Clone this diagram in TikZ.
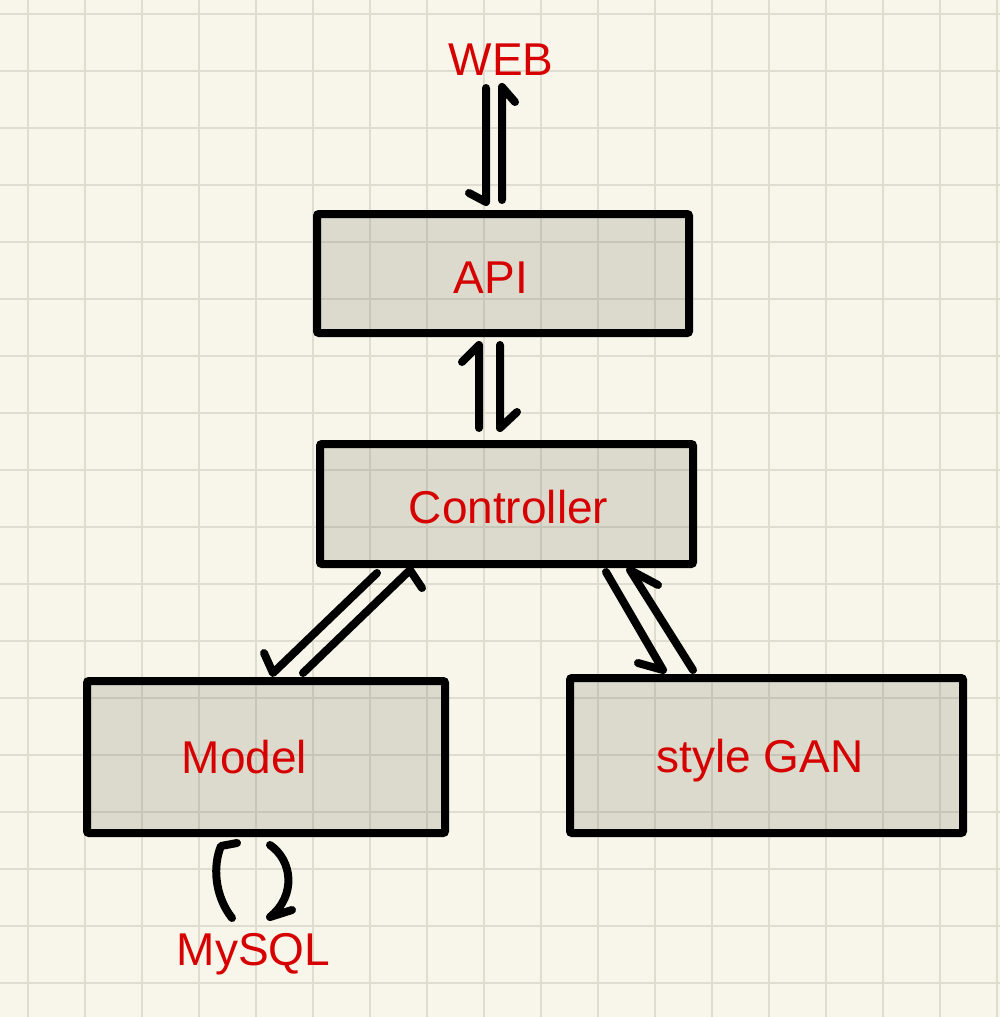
\documentclass[tikz,border=0pt]{standalone}
\usepackage{fontspec}
\setmainfont{Liberation Sans}
\usetikzlibrary{calc}
\definecolor{paper}{RGB}{248,246,234}
\definecolor{gridc}{RGB}{222,221,208}
\definecolor{boxfill}{RGB}{125,125,110}
\definecolor{labred}{RGB}{214,0,0}
\begin{document}
\begin{tikzpicture}[x=1pt,y=-1pt,
  box/.style={draw=black, line width=8pt, fill=boxfill, fill opacity=0.23, draw opacity=1, rounded corners=2pt, outer sep=0pt, inner sep=0pt},
  txt/.style={text=labred, font=\fontsize{46}{50}\selectfont, inner sep=0pt, outer sep=0pt, anchor=base},
  conn/.style={draw=black, line width=8pt, line cap=round, line join=round},
  gridline/.style={draw=gridc, line width=2.7pt}]
\fill[paper] (0,0) rectangle (1000,1017);
\useasboundingbox (0,0) rectangle (1000,1017);
\foreach \i in {0,...,17} {
  \draw[gridline] ({28+57*\i},0) -- ({28+57*\i},1017);
  \draw[gridline] (0,{14+57*\i}) -- (1000,{14+57*\i});
}
% boxes
\node[box, minimum width=372pt, minimum height=119pt] (api) at (503,273.5) {};
\node[box, minimum width=373pt, minimum height=120pt] (ctrl) at (506.5,504) {};
\node[box, minimum width=358pt, minimum height=152pt] (model) at (266,757) {};
\node[box, minimum width=393pt, minimum height=155pt] (gan) at (766.5,755.5) {};
% labels
\node[txt] (web) at (501,75) {WEB};
\node[txt] (apit) at (491,293) {API};
\node[txt] (ctrlt) at (508.5,523) {Controller};
\node[txt] (modelt) at (244.5,773) {Model};
\node[txt] (gant) at (760,772) {style GAN};
\node[txt] (mysql) at (253.5,965) {MySQL};
% WEB <-> API
\draw[conn] ([shift={(-15,13)}]web.south) -- ([shift={(-17,-12)}]api.north) -- ++(-17,-9);
\draw[conn] ([shift={(-1,-14)}]api.north) -- ([shift={(1,12)}]web.south) -- ++(13,15);
% API <-> Controller
\draw[conn] ([shift={(-27.5,-16)}]ctrl.north) -- ([shift={(-24,12)}]api.south) -- ++(-17,17);
\draw[conn] ([shift={(-3,12)}]api.south) -- ([shift={(-6.5,-16)}]ctrl.north) -- ++(17,-16);
% Controller <-> Model
\draw[conn] ([shift={(-129.5,9)}]ctrl.south) -- ([shift={(7,-8)}]model.north) -- ++(-9,-20);
\draw[conn] ([shift={(37,-8)}]model.north) -- ([shift={(-96.5,6)}]ctrl.south) -- ++(12,18);
% Controller <-> style GAN
\draw[conn] ([shift={(99.5,8)}]ctrl.south) -- ([shift={(-103.5,-8)}]gan.north) -- ++(-25,-7);
\draw[conn] ([shift={(-73.5,-8)}]gan.north) -- ([shift={(123.5,6)}]ctrl.south) -- ++(28,15);
% Model <-> MySQL
\draw[conn] ([shift={(-34,85)}]model.south) .. controls ++(-18,-23) and ++(-8,19) .. ([shift={(-45,13)}]model.south) -- ++(16,-3);
\draw[conn] ([shift={(4,12)}]model.south) .. controls ++(22,15) and ++(27,-22) .. ([shift={(4,84)}]model.south) -- ++(22,-7);
\end{tikzpicture}
\end{document}
